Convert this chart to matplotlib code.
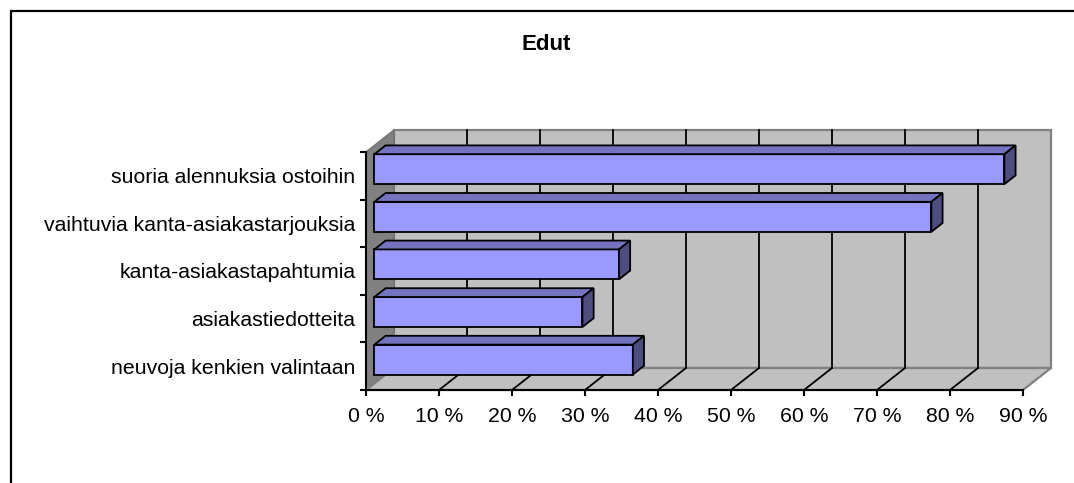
import matplotlib.pyplot as plt
from matplotlib.patches import Polygon, Rectangle
import numpy as np

plt.rcParams['font.family'] = ['Liberation Sans', 'DejaVu Sans']

# Kysymyksen vastaukset (alhaalta ylös)
kategoriat = ['neuvoja kenkien valintaan', 'asiakastiedotteita',
              'kanta-asiakastapahtumia', 'vaihtuvia kanta-asiakastarjouksia',
              'suoria alennuksia ostoihin']
osuudet = [35.4, 28.5, 33.5, 76.3, 86.3]
x_tikit = [0, 10, 20, 30, 40, 50, 60, 70, 80, 90]
x_tikki_tekstit = ['%d %%' % t for t in x_tikit]

# Värit
etu = '#9999FF'
kansi = '#7373BF'
kylki = '#4D4D80'
seina = '#C0C0C0'
vasen_seina = '#808080'

W, H = 1074, 483
fig = plt.figure(figsize=(W / 100, H / 100), dpi=100)

# Akseli vastaa kaavion etutasoa
ax = fig.add_axes([366 / W, (H - 390) / H, 657 / W, 238 / H])
ax.set_xlim(0, 90)
ax.set_ylim(-0.5, 4.5)
ax.patch.set_visible(False)

# Syvyyssuunnan siirtymä data-yksiköissä
DX = 28 / 7.3
DY = 22 / 47.6
xmax = x_tikit[-1]
y0, y1 = -0.5, len(kategoriat) - 0.5

# Takaseinä, vasen seinä ja lattia
ax.add_patch(Polygon([(DX, y0 + DY), (xmax + DX, y0 + DY), (xmax + DX, y1 + DY), (DX, y1 + DY)],
                     closed=True, fc=seina, ec='#808080', lw=1.6, clip_on=False, zorder=1))
ax.add_patch(Polygon([(0, y0), (DX, y0 + DY), (DX, y1 + DY), (0, y1)],
                     closed=True, fc=vasen_seina, ec='#707070', lw=1.0, clip_on=False, zorder=1))
ax.add_patch(Polygon([(0, y0), (xmax, y0), (xmax + DX, y0 + DY), (DX, y0 + DY)],
                     closed=True, fc=seina, ec='#808080', lw=1.6, clip_on=False, zorder=1))

# Ruudukko takaseinällä ja lattialla
for t in x_tikit[1:-1]:
    ax.plot([t + DX, t + DX], [y0 + DY, y1 + DY], color='black', lw=1.3, clip_on=False, zorder=2)
    ax.plot([t, t + DX], [y0, y0 + DY], color='black', lw=1.3, clip_on=False, zorder=2)

# 3D-palkit
h = 0.315
z0, z1 = 0.3, 0.7
for i, v in enumerate(osuudet):
    ax.add_patch(Rectangle((z0 * DX, i - h + z0 * DY), v, 2 * h,
                           fc=etu, ec='black', lw=1.3, clip_on=False, zorder=3))
    ax.add_patch(Polygon([(z0 * DX, i + h + z0 * DY), (v + z0 * DX, i + h + z0 * DY),
                          (v + z1 * DX, i + h + z1 * DY), (z1 * DX, i + h + z1 * DY)],
                         closed=True, fc=kansi, ec='black', lw=1.3, clip_on=False, zorder=3))
    ax.add_patch(Polygon([(v + z0 * DX, i - h + z0 * DY), (v + z1 * DX, i - h + z1 * DY),
                          (v + z1 * DX, i + h + z1 * DY), (v + z0 * DX, i + h + z0 * DY)],
                         closed=True, fc=kylki, ec='black', lw=1.3, clip_on=False, zorder=3))

# Akselit
for s in ['top', 'right']:
    ax.spines[s].set_visible(False)
for s in ['left', 'bottom']:
    ax.spines[s].set_color('black')
    ax.spines[s].set_linewidth(1.5)
    ax.spines[s].set_zorder(4)

ax.set_xticks(x_tikit)
ax.set_xticklabels(x_tikki_tekstit, fontsize=15.3)
ax.tick_params(axis='x', direction='out', length=4, width=1.5, pad=8)

ax.set_yticks(np.arange(y0, y1 + 0.01, 1.0))
ax.set_yticklabels([])
ax.tick_params(axis='y', which='major', direction='out', length=4, width=1.5)
ax.set_yticks(range(len(kategoriat)), minor=True)
ax.set_yticklabels(kategoriat, minor=True, fontsize=15.3)
ax.tick_params(axis='y', which='minor', length=0, pad=7.5)

# Otsikko
fig.text(546 / W, 1 - 45 / H, 'Edut', ha='center', va='center', fontsize=16, fontweight='bold')

# Kaavioalueen reunus
fig.add_artist(Rectangle((11 / W, -0.1), 1.2, 1 - 11 / H + 0.1, transform=fig.transFigure,
                         fill=False, ec='black', lw=1.6))

fig.savefig('out.png', dpi=100)
